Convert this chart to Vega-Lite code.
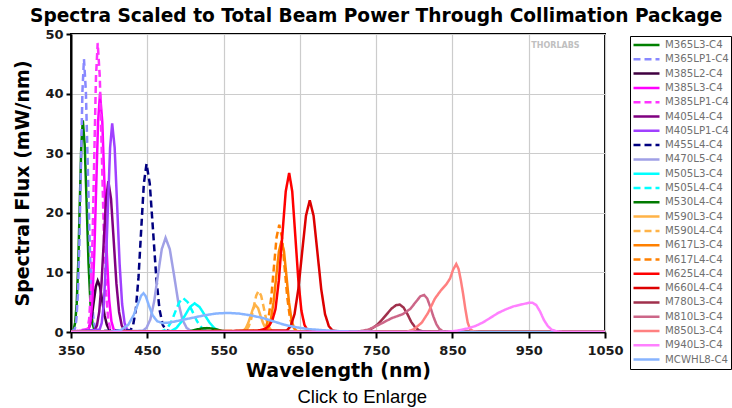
{
"$schema":"https://vega.github.io/schema/vega-lite/v6.json",
"padding":{"left":12,"top":6,"right":0,"bottom":0},
"background":"white",
"config":{
 "view":{"stroke":"black","strokeWidth":2},
 "legend":{"orient":"none","legendX":559,"legendY":2,"symbolType":"stroke","symbolSize":676,"clipHeight":14,"rowPadding":0.3,"labelFont":"DejaVu Sans","labelFontSize":10.2,"labelColor":"#707070","strokeColor":"black","padding":2,"labelOffset":4,"labelLimit":80,"title":null}
},
"title":{"text":"Click to Enlarge","orient":"bottom","anchor":"middle","font":"Liberation Sans","fontSize":18.5,"fontWeight":"normal","color":"black","offset":7,"dx":-10},
"datasets":{"spectra":[
{"s":"M365L3-C4","w":350,"f":0},{"s":"M365L3-C4","w":353.5,"f":0.4},{"s":"M365L3-C4","w":355.5,"f":1.6},{"s":"M365L3-C4","w":357.5,"f":4.8},{"s":"M365L3-C4","w":359.5,"f":11.5},{"s":"M365L3-C4","w":361.5,"f":21.5},{"s":"M365L3-C4","w":363.5,"f":31.3},{"s":"M365L3-C4","w":365.5,"f":35.5},{"s":"M365L3-C4","w":368,"f":31.3},{"s":"M365L3-C4","w":370.5,"f":21.5},{"s":"M365L3-C4","w":373,"f":11.5},{"s":"M365L3-C4","w":375.5,"f":4.8},{"s":"M365L3-C4","w":378,"f":1.6},{"s":"M365L3-C4","w":380.5,"f":0.4},{"s":"M365L3-C4","w":390,"f":0},{"s":"M365L3-C4","w":1050,"f":0},
{"s":"M365LP1-C4","w":350,"f":0},{"s":"M365LP1-C4","w":355,"f":0.5},{"s":"M365LP1-C4","w":357,"f":2.0},{"s":"M365LP1-C4","w":359,"f":6.2},{"s":"M365LP1-C4","w":361,"f":14.9},{"s":"M365LP1-C4","w":363,"f":27.8},{"s":"M365LP1-C4","w":365,"f":40.4},{"s":"M365LP1-C4","w":367,"f":45.8},{"s":"M365LP1-C4","w":369.5,"f":40.4},{"s":"M365LP1-C4","w":372,"f":27.8},{"s":"M365LP1-C4","w":374.5,"f":14.9},{"s":"M365LP1-C4","w":377,"f":6.2},{"s":"M365LP1-C4","w":379.5,"f":2.0},{"s":"M365LP1-C4","w":382,"f":0.5},{"s":"M365LP1-C4","w":390,"f":0},{"s":"M365LP1-C4","w":1050,"f":0},
{"s":"M385L2-C4","w":350,"f":0},{"s":"M385L2-C4","w":370,"f":0.1},{"s":"M385L2-C4","w":372.5,"f":0.4},{"s":"M385L2-C4","w":375,"f":1.2},{"s":"M385L2-C4","w":377.5,"f":2.8},{"s":"M385L2-C4","w":380,"f":5.2},{"s":"M385L2-C4","w":382.5,"f":7.6},{"s":"M385L2-C4","w":385,"f":8.6},{"s":"M385L2-C4","w":388,"f":7.6},{"s":"M385L2-C4","w":391,"f":5.2},{"s":"M385L2-C4","w":394,"f":2.8},{"s":"M385L2-C4","w":397,"f":1.2},{"s":"M385L2-C4","w":400,"f":0.4},{"s":"M385L2-C4","w":403,"f":0.1},{"s":"M385L2-C4","w":410,"f":0},{"s":"M385L2-C4","w":1050,"f":0},
{"s":"M385L3-C4","w":350,"f":0},{"s":"M385L3-C4","w":373,"f":0.4},{"s":"M385L3-C4","w":375.5,"f":1.8},{"s":"M385L3-C4","w":378,"f":5.4},{"s":"M385L3-C4","w":380.5,"f":13},{"s":"M385L3-C4","w":383,"f":24.3},{"s":"M385L3-C4","w":385.5,"f":35.3},{"s":"M385L3-C4","w":388,"f":40},{"s":"M385L3-C4","w":391,"f":35.3},{"s":"M385L3-C4","w":394,"f":24.3},{"s":"M385L3-C4","w":397,"f":13},{"s":"M385L3-C4","w":400,"f":5.4},{"s":"M385L3-C4","w":403,"f":1.8},{"s":"M385L3-C4","w":406,"f":0.4},{"s":"M385L3-C4","w":415,"f":0},{"s":"M385L3-C4","w":1050,"f":0},
{"s":"M385LP1-C4","w":350,"f":0},{"s":"M385LP1-C4","w":371.5,"f":0.5},{"s":"M385LP1-C4","w":373.75,"f":2.1},{"s":"M385LP1-C4","w":376,"f":6.6},{"s":"M385LP1-C4","w":378.25,"f":15.7},{"s":"M385LP1-C4","w":380.5,"f":29.4},{"s":"M385LP1-C4","w":382.75,"f":42.8},{"s":"M385LP1-C4","w":385,"f":48.5},{"s":"M385LP1-C4","w":387.75,"f":42.8},{"s":"M385LP1-C4","w":390.5,"f":29.4},{"s":"M385LP1-C4","w":393.25,"f":15.7},{"s":"M385LP1-C4","w":396,"f":6.6},{"s":"M385LP1-C4","w":398.75,"f":2.1},{"s":"M385LP1-C4","w":401.5,"f":0.5},{"s":"M385LP1-C4","w":410,"f":0},{"s":"M385LP1-C4","w":1050,"f":0},
{"s":"M405L4-C4","w":350,"f":0},{"s":"M405L4-C4","w":381,"f":0.3},{"s":"M405L4-C4","w":384,"f":1.1},{"s":"M405L4-C4","w":387,"f":3.4},{"s":"M405L4-C4","w":390,"f":8.2},{"s":"M405L4-C4","w":393,"f":15.3},{"s":"M405L4-C4","w":396,"f":22.3},{"s":"M405L4-C4","w":399,"f":25.3},{"s":"M405L4-C4","w":402.5,"f":22.3},{"s":"M405L4-C4","w":406,"f":15.3},{"s":"M405L4-C4","w":409.5,"f":8.2},{"s":"M405L4-C4","w":413,"f":3.4},{"s":"M405L4-C4","w":416.5,"f":1.1},{"s":"M405L4-C4","w":420,"f":0.3},{"s":"M405L4-C4","w":430,"f":0},{"s":"M405L4-C4","w":1050,"f":0},
{"s":"M405LP1-C4","w":350,"f":0},{"s":"M405LP1-C4","w":387.5,"f":0.4},{"s":"M405LP1-C4","w":390.25,"f":1.5},{"s":"M405LP1-C4","w":393,"f":4.7},{"s":"M405LP1-C4","w":395.75,"f":11.4},{"s":"M405LP1-C4","w":398.5,"f":21.2},{"s":"M405LP1-C4","w":401.25,"f":30.9},{"s":"M405LP1-C4","w":404,"f":35},{"s":"M405LP1-C4","w":407.25,"f":30.9},{"s":"M405LP1-C4","w":410.5,"f":21.2},{"s":"M405LP1-C4","w":413.75,"f":11.4},{"s":"M405LP1-C4","w":417,"f":4.7},{"s":"M405LP1-C4","w":420.25,"f":1.5},{"s":"M405LP1-C4","w":423.5,"f":0.4},{"s":"M405LP1-C4","w":435,"f":0},{"s":"M405LP1-C4","w":1050,"f":0},
{"s":"M455L4-C4","w":350,"f":0},{"s":"M455L4-C4","w":428,"f":0.3},{"s":"M455L4-C4","w":431.5,"f":1.2},{"s":"M455L4-C4","w":435,"f":3.8},{"s":"M455L4-C4","w":438.5,"f":9.2},{"s":"M455L4-C4","w":442,"f":17.1},{"s":"M455L4-C4","w":445.5,"f":24.9},{"s":"M455L4-C4","w":449,"f":28.2},{"s":"M455L4-C4","w":453.25,"f":24.9},{"s":"M455L4-C4","w":457.5,"f":17.1},{"s":"M455L4-C4","w":461.75,"f":9.2},{"s":"M455L4-C4","w":466,"f":3.8},{"s":"M455L4-C4","w":470.25,"f":1.2},{"s":"M455L4-C4","w":474.5,"f":0.3},{"s":"M455L4-C4","w":485,"f":0},{"s":"M455L4-C4","w":1050,"f":0},
{"s":"M470L5-C4","w":350,"f":0},{"s":"M470L5-C4","w":444,"f":0.2},{"s":"M470L5-C4","w":449,"f":0.7},{"s":"M470L5-C4","w":454,"f":2.1},{"s":"M470L5-C4","w":459,"f":5.1},{"s":"M470L5-C4","w":464,"f":9.6},{"s":"M470L5-C4","w":469,"f":13.9},{"s":"M470L5-C4","w":474,"f":15.8},{"s":"M470L5-C4","w":479.5,"f":13.9},{"s":"M470L5-C4","w":485,"f":9.6},{"s":"M470L5-C4","w":490.5,"f":5.1},{"s":"M470L5-C4","w":496,"f":2.1},{"s":"M470L5-C4","w":501.5,"f":0.7},{"s":"M470L5-C4","w":507,"f":0.2},{"s":"M470L5-C4","w":520,"f":0},{"s":"M470L5-C4","w":1050,"f":0},
{"s":"M505L3-C4","w":350,"f":0},{"s":"M505L3-C4","w":476,"f":0.05},{"s":"M505L3-C4","w":482,"f":0.2},{"s":"M505L3-C4","w":488,"f":0.65},{"s":"M505L3-C4","w":494,"f":1.6},{"s":"M505L3-C4","w":500,"f":2.9},{"s":"M505L3-C4","w":506,"f":4.2},{"s":"M505L3-C4","w":512,"f":4.8},{"s":"M505L3-C4","w":518.5,"f":4.2},{"s":"M505L3-C4","w":525,"f":2.9},{"s":"M505L3-C4","w":531.5,"f":1.6},{"s":"M505L3-C4","w":538,"f":0.65},{"s":"M505L3-C4","w":544.5,"f":0.2},{"s":"M505L3-C4","w":551,"f":0.05},{"s":"M505L3-C4","w":565,"f":0},{"s":"M505L3-C4","w":1050,"f":0},
{"s":"M505L4-C4","w":350,"f":0},{"s":"M505L4-C4","w":467,"f":0.06},{"s":"M505L4-C4","w":472,"f":0.25},{"s":"M505L4-C4","w":477,"f":0.77},{"s":"M505L4-C4","w":482,"f":1.85},{"s":"M505L4-C4","w":487,"f":3.5},{"s":"M505L4-C4","w":492,"f":5.0},{"s":"M505L4-C4","w":497,"f":5.7},{"s":"M505L4-C4","w":503,"f":5.0},{"s":"M505L4-C4","w":509,"f":3.5},{"s":"M505L4-C4","w":515,"f":1.85},{"s":"M505L4-C4","w":521,"f":0.77},{"s":"M505L4-C4","w":527,"f":0.25},{"s":"M505L4-C4","w":533,"f":0.06},{"s":"M505L4-C4","w":545,"f":0},{"s":"M505L4-C4","w":1050,"f":0},
{"s":"M530L4-C4","w":350,"f":0},{"s":"M530L4-C4","w":498,"f":0.03},{"s":"M530L4-C4","w":504,"f":0.1},{"s":"M530L4-C4","w":510,"f":0.25},{"s":"M530L4-C4","w":516,"f":0.45},{"s":"M530L4-C4","w":522,"f":0.6},{"s":"M530L4-C4","w":528,"f":0.65},{"s":"M530L4-C4","w":534,"f":0.6},{"s":"M530L4-C4","w":540,"f":0.45},{"s":"M530L4-C4","w":546,"f":0.25},{"s":"M530L4-C4","w":552,"f":0.1},{"s":"M530L4-C4","w":558,"f":0.03},{"s":"M530L4-C4","w":575,"f":0},{"s":"M530L4-C4","w":1050,"f":0},
{"s":"M590L3-C4","w":350,"f":0},{"s":"M590L3-C4","w":572.5,"f":0.05},{"s":"M590L3-C4","w":575.75,"f":0.2},{"s":"M590L3-C4","w":579,"f":0.6},{"s":"M590L3-C4","w":582.25,"f":1.5},{"s":"M590L3-C4","w":585.5,"f":2.7},{"s":"M590L3-C4","w":588.75,"f":4.0},{"s":"M590L3-C4","w":592,"f":4.5},{"s":"M590L3-C4","w":595.25,"f":4.0},{"s":"M590L3-C4","w":598.5,"f":2.7},{"s":"M590L3-C4","w":601.75,"f":1.5},{"s":"M590L3-C4","w":605,"f":0.6},{"s":"M590L3-C4","w":608.25,"f":0.2},{"s":"M590L3-C4","w":611.5,"f":0.05},{"s":"M590L3-C4","w":620,"f":0},{"s":"M590L3-C4","w":1050,"f":0},
{"s":"M590L4-C4","w":350,"f":0},{"s":"M590L4-C4","w":576.5,"f":0.08},{"s":"M590L4-C4","w":579.75,"f":0.3},{"s":"M590L4-C4","w":583,"f":0.93},{"s":"M590L4-C4","w":586.25,"f":2.2},{"s":"M590L4-C4","w":589.5,"f":4.2},{"s":"M590L4-C4","w":592.75,"f":6.1},{"s":"M590L4-C4","w":596,"f":6.9},{"s":"M590L4-C4","w":599.25,"f":6.1},{"s":"M590L4-C4","w":602.5,"f":4.2},{"s":"M590L4-C4","w":605.75,"f":2.2},{"s":"M590L4-C4","w":609,"f":0.93},{"s":"M590L4-C4","w":612.25,"f":0.3},{"s":"M590L4-C4","w":615.5,"f":0.08},{"s":"M590L4-C4","w":625,"f":0},{"s":"M590L4-C4","w":1050,"f":0},
{"s":"M617L3-C4","w":350,"f":0},{"s":"M617L3-C4","w":605,"f":0.17},{"s":"M617L3-C4","w":608.5,"f":0.67},{"s":"M617L3-C4","w":612,"f":2.1},{"s":"M617L3-C4","w":615.5,"f":5.0},{"s":"M617L3-C4","w":619,"f":9.3},{"s":"M617L3-C4","w":622.5,"f":13.5},{"s":"M617L3-C4","w":626,"f":15.3},{"s":"M617L3-C4","w":629.25,"f":13.5},{"s":"M617L3-C4","w":632.5,"f":9.3},{"s":"M617L3-C4","w":635.75,"f":5.0},{"s":"M617L3-C4","w":639,"f":2.1},{"s":"M617L3-C4","w":642.25,"f":0.67},{"s":"M617L3-C4","w":645.5,"f":0.17},{"s":"M617L3-C4","w":655,"f":0},{"s":"M617L3-C4","w":1050,"f":0},
{"s":"M617L4-C4","w":350,"f":0},{"s":"M617L4-C4","w":602,"f":0.2},{"s":"M617L4-C4","w":605.5,"f":0.8},{"s":"M617L4-C4","w":609,"f":2.4},{"s":"M617L4-C4","w":612.5,"f":5.8},{"s":"M617L4-C4","w":616,"f":10.9},{"s":"M617L4-C4","w":619.5,"f":15.9},{"s":"M617L4-C4","w":623,"f":18},{"s":"M617L4-C4","w":626.5,"f":15.9},{"s":"M617L4-C4","w":630,"f":10.9},{"s":"M617L4-C4","w":633.5,"f":5.8},{"s":"M617L4-C4","w":637,"f":2.4},{"s":"M617L4-C4","w":640.5,"f":0.8},{"s":"M617L4-C4","w":644,"f":0.2},{"s":"M617L4-C4","w":655,"f":0},{"s":"M617L4-C4","w":1050,"f":0},
{"s":"M625L4-C4","w":350,"f":0},{"s":"M625L4-C4","w":580,"f":0.05},{"s":"M625L4-C4","w":595,"f":0.2},{"s":"M625L4-C4","w":604,"f":0.5},{"s":"M625L4-C4","w":610,"f":1.1},{"s":"M625L4-C4","w":614,"f":2.0},{"s":"M625L4-C4","w":618,"f":3.8},{"s":"M625L4-C4","w":622.5,"f":8.7},{"s":"M625L4-C4","w":627,"f":16.2},{"s":"M625L4-C4","w":631.5,"f":23.6},{"s":"M625L4-C4","w":636,"f":26.7},{"s":"M625L4-C4","w":640,"f":23.6},{"s":"M625L4-C4","w":644,"f":16.2},{"s":"M625L4-C4","w":648,"f":8.7},{"s":"M625L4-C4","w":652,"f":3.6},{"s":"M625L4-C4","w":656,"f":1.2},{"s":"M625L4-C4","w":660,"f":0.3},{"s":"M625L4-C4","w":670,"f":0},{"s":"M625L4-C4","w":1050,"f":0},
{"s":"M660L4-C4","w":350,"f":0},{"s":"M660L4-C4","w":633,"f":0.25},{"s":"M660L4-C4","w":638,"f":0.97},{"s":"M660L4-C4","w":643,"f":3.0},{"s":"M660L4-C4","w":648,"f":7.2},{"s":"M660L4-C4","w":653,"f":13.4},{"s":"M660L4-C4","w":658,"f":19.5},{"s":"M660L4-C4","w":663,"f":22.1},{"s":"M660L4-C4","w":668,"f":19.5},{"s":"M660L4-C4","w":673,"f":13.4},{"s":"M660L4-C4","w":678,"f":7.2},{"s":"M660L4-C4","w":683,"f":3.0},{"s":"M660L4-C4","w":688,"f":0.97},{"s":"M660L4-C4","w":693,"f":0.25},{"s":"M660L4-C4","w":705,"f":0},{"s":"M660L4-C4","w":1050,"f":0},
{"s":"M780L3-C4","w":350,"f":0},{"s":"M780L3-C4","w":720,"f":0},{"s":"M780L3-C4","w":730,"f":0.05},{"s":"M780L3-C4","w":740,"f":0.3},{"s":"M780L3-C4","w":746,"f":0.7},{"s":"M780L3-C4","w":752,"f":1.3},{"s":"M780L3-C4","w":758,"f":2.1},{"s":"M780L3-C4","w":764,"f":3.0},{"s":"M780L3-C4","w":770,"f":3.9},{"s":"M780L3-C4","w":776,"f":4.5},{"s":"M780L3-C4","w":781,"f":4.6},{"s":"M780L3-C4","w":786,"f":4.1},{"s":"M780L3-C4","w":791,"f":3.0},{"s":"M780L3-C4","w":796,"f":1.7},{"s":"M780L3-C4","w":801,"f":0.8},{"s":"M780L3-C4","w":806,"f":0.3},{"s":"M780L3-C4","w":812,"f":0.08},{"s":"M780L3-C4","w":825,"f":0},{"s":"M780L3-C4","w":1050,"f":0},
{"s":"M810L3-C4","w":350,"f":0},{"s":"M810L3-C4","w":710,"f":0},{"s":"M810L3-C4","w":725,"f":0.05},{"s":"M810L3-C4","w":740,"f":0.4},{"s":"M810L3-C4","w":755,"f":1.3},{"s":"M810L3-C4","w":770,"f":2.3},{"s":"M810L3-C4","w":785,"f":3.0},{"s":"M810L3-C4","w":795,"f":3.9},{"s":"M810L3-C4","w":803,"f":5.2},{"s":"M810L3-C4","w":808,"f":6.0},{"s":"M810L3-C4","w":813,"f":6.2},{"s":"M810L3-C4","w":817,"f":5.6},{"s":"M810L3-C4","w":821,"f":4.2},{"s":"M810L3-C4","w":825,"f":2.6},{"s":"M810L3-C4","w":829,"f":1.3},{"s":"M810L3-C4","w":833,"f":0.5},{"s":"M810L3-C4","w":838,"f":0.1},{"s":"M810L3-C4","w":850,"f":0},{"s":"M810L3-C4","w":1050,"f":0},
{"s":"M850L3-C4","w":350,"f":0},{"s":"M850L3-C4","w":790,"f":0},{"s":"M850L3-C4","w":800,"f":0.5},{"s":"M850L3-C4","w":810,"f":1.6},{"s":"M850L3-C4","w":818,"f":3.2},{"s":"M850L3-C4","w":827,"f":5.6},{"s":"M850L3-C4","w":835,"f":7.0},{"s":"M850L3-C4","w":842,"f":8.0},{"s":"M850L3-C4","w":847,"f":9.0},{"s":"M850L3-C4","w":851,"f":10.5},{"s":"M850L3-C4","w":855,"f":11.4},{"s":"M850L3-C4","w":858,"f":10.6},{"s":"M850L3-C4","w":861,"f":8.7},{"s":"M850L3-C4","w":864,"f":6.4},{"s":"M850L3-C4","w":867,"f":3.8},{"s":"M850L3-C4","w":870,"f":1.6},{"s":"M850L3-C4","w":873,"f":0.5},{"s":"M850L3-C4","w":878,"f":0.1},{"s":"M850L3-C4","w":885,"f":0},{"s":"M850L3-C4","w":1050,"f":0},
{"s":"MCWHL8-C4","w":350,"f":0},{"s":"MCWHL8-C4","w":400,"f":0},{"s":"MCWHL8-C4","w":415,"f":0.3},{"s":"MCWHL8-C4","w":425,"f":1.2},{"s":"MCWHL8-C4","w":432,"f":2.8},{"s":"MCWHL8-C4","w":438,"f":4.8},{"s":"MCWHL8-C4","w":442,"f":6.1},{"s":"MCWHL8-C4","w":445,"f":6.5},{"s":"MCWHL8-C4","w":448,"f":6.0},{"s":"MCWHL8-C4","w":452,"f":4.5},{"s":"MCWHL8-C4","w":457,"f":2.8},{"s":"MCWHL8-C4","w":463,"f":1.8},{"s":"MCWHL8-C4","w":470,"f":1.5},{"s":"MCWHL8-C4","w":480,"f":1.6},{"s":"MCWHL8-C4","w":495,"f":2.0},{"s":"MCWHL8-C4","w":510,"f":2.4},{"s":"MCWHL8-C4","w":525,"f":2.8},{"s":"MCWHL8-C4","w":540,"f":3.1},{"s":"MCWHL8-C4","w":555,"f":3.2},{"s":"MCWHL8-C4","w":570,"f":3.1},{"s":"MCWHL8-C4","w":585,"f":2.8},{"s":"MCWHL8-C4","w":600,"f":2.4},{"s":"MCWHL8-C4","w":615,"f":1.8},{"s":"MCWHL8-C4","w":630,"f":1.2},{"s":"MCWHL8-C4","w":645,"f":0.8},{"s":"MCWHL8-C4","w":660,"f":0.5},{"s":"MCWHL8-C4","w":680,"f":0.3},{"s":"MCWHL8-C4","w":700,"f":0.15},{"s":"MCWHL8-C4","w":730,"f":0.05},{"s":"MCWHL8-C4","w":760,"f":0},{"s":"MCWHL8-C4","w":1050,"f":0},
{"s":"M940L3-C4","w":350,"f":0},{"s":"M940L3-C4","w":840,"f":0},{"s":"M940L3-C4","w":855,"f":0.2},{"s":"M940L3-C4","w":870,"f":0.6},{"s":"M940L3-C4","w":880,"f":1.0},{"s":"M940L3-C4","w":890,"f":1.6},{"s":"M940L3-C4","w":900,"f":2.4},{"s":"M940L3-C4","w":910,"f":3.2},{"s":"M940L3-C4","w":920,"f":3.8},{"s":"M940L3-C4","w":930,"f":4.3},{"s":"M940L3-C4","w":940,"f":4.6},{"s":"M940L3-C4","w":950,"f":4.9},{"s":"M940L3-C4","w":955,"f":4.9},{"s":"M940L3-C4","w":960,"f":4.5},{"s":"M940L3-C4","w":965,"f":3.4},{"s":"M940L3-C4","w":970,"f":2.0},{"s":"M940L3-C4","w":975,"f":1.0},{"s":"M940L3-C4","w":980,"f":0.4},{"s":"M940L3-C4","w":987,"f":0.1},{"s":"M940L3-C4","w":995,"f":0},{"s":"M940L3-C4","w":1050,"f":0}
],
"logo":[{"x":985,"y":48,"t":"THORLABS"}]},
"vconcat":[{
 "width":534,"height":298,
 "title":{"text":"Spectra Scaled to Total Beam Power Through Collimation Package","anchor":"start","frame":"group","dx":-41,"font":"DejaVu Sans","fontSize":18.6,"fontWeight":"bold","color":"black","offset":2},
 "layer":[
  {"data":{"name":"spectra"},
   "mark":{"type":"line","interpolate":"linear","clip":true},
   "encoding":{
    "x":{"field":"w","type":"quantitative","title":"Wavelength (nm)",
      "scale":{"domain":[350,1050],"nice":false,"zero":false},
      "axis":{"values":[350,400,450,500,550,600,650,700,750,800,850,900,950,1000,1050],"format":"d",
        "labelExpr":"datum.value % 100 == 50 ? datum.label : ''",
        "labelFont":"DejaVu Sans","labelFontSize":13,"labelFontWeight":"bold","labelColor":"#1a1a1a","labelPadding":6,"labelOverlap":false,"labelFlush":false,
        "tickColor":"black","tickWidth":2,"tickSize":{"condition":{"test":"datum.value % 100 == 0","value":3},"value":6},
        "domainColor":"black","domainWidth":2,"gridColor":"#cccccc","gridWidth":1.2,
        "titleFont":"DejaVu Sans","titleFontSize":19,"titleFontWeight":"bold","titleColor":"black","titlePadding":4}},
    "y":{"field":"f","type":"quantitative","title":"Spectral Flux (mW/nm)",
      "scale":{"domain":[0,50],"nice":false},
      "axis":{"values":[0,5,10,15,20,25,30,35,40,45,50],
        "labelExpr":"datum.value % 10 == 0 ? datum.label : ''",
        "labelFont":"DejaVu Sans","labelFontSize":13,"labelFontWeight":"bold","labelColor":"#1a1a1a","labelPadding":3,"labelOverlap":false,"labelFlush":false,
        "tickColor":"black","tickWidth":2,"tickSize":{"condition":{"test":"datum.value % 10 == 5","value":3},"value":5},
        "domainColor":"black","domainWidth":2,"gridColor":"#cccccc","gridWidth":1.2,
        "titleFont":"DejaVu Sans","titleFontSize":19,"titleFontWeight":"bold","titleColor":"black","titlePadding":12}},
    "color":{"field":"s","type":"nominal",
      "scale":{"domain":["M365L3-C4","M365LP1-C4","M385L2-C4","M385L3-C4","M385LP1-C4","M405L4-C4","M405LP1-C4","M455L4-C4","M470L5-C4","M505L3-C4","M505L4-C4","M530L4-C4","M590L3-C4","M590L4-C4","M617L3-C4","M617L4-C4","M625L4-C4","M660L4-C4","M780L3-C4","M810L3-C4","M850L3-C4","M940L3-C4","MCWHL8-C4"],
       "range":["#008000","#8888FF","#400040","#FF00FF","#FF33FF","#800080","#A040FF","#000080","#A0A0E6","#00FFFF","#00FFFF","#007A00","#FFB347","#FFB347","#FF8000","#FF8000","#FF0000","#DD0000","#A0304C","#CC6688","#FF8080","#FF80FF","#88B4FF"]}},
    "strokeDash":{"field":"s","type":"nominal",
      "scale":{"domain":["M365L3-C4","M365LP1-C4","M385L2-C4","M385L3-C4","M385LP1-C4","M405L4-C4","M405LP1-C4","M455L4-C4","M470L5-C4","M505L3-C4","M505L4-C4","M530L4-C4","M590L3-C4","M590L4-C4","M617L3-C4","M617L4-C4","M625L4-C4","M660L4-C4","M780L3-C4","M810L3-C4","M850L3-C4","M940L3-C4","MCWHL8-C4"],
       "range":[[1,0],[7,4],[1,0],[1,0],[7,4],[1,0],[1,0],[7,4],[1,0],[1,0],[7,4],[1,0],[1,0],[7,4],[1,0],[7,4],[1,0],[1,0],[1,0],[1,0],[1,0],[1,0],[1,0]]}},
    "strokeWidth":{"field":"s","type":"nominal",
      "scale":{"domain":["M365L3-C4","M365LP1-C4","M385L2-C4","M385L3-C4","M385LP1-C4","M405L4-C4","M405LP1-C4","M455L4-C4","M470L5-C4","M505L3-C4","M505L4-C4","M530L4-C4","M590L3-C4","M590L4-C4","M617L3-C4","M617L4-C4","M625L4-C4","M660L4-C4","M780L3-C4","M810L3-C4","M850L3-C4","M940L3-C4","MCWHL8-C4"],
       "range":[2.5,2.5,2.5,2.5,2.5,2.5,2.5,2.5,2.5,2.5,2.5,2.5,2.5,2.5,2.5,2.5,2.5,2.5,2.5,2.5,2.5,2.5,1.3]}}
   }},
  {"data":{"name":"logo"},
   "mark":{"type":"text","font":"DejaVu Sans","fontSize":8,"fontWeight":"bold","color":"#c0c0c0"},
   "encoding":{"x":{"field":"x","type":"quantitative"},"y":{"field":"y","type":"quantitative"},"text":{"field":"t"}}}
 ]
}]
}
